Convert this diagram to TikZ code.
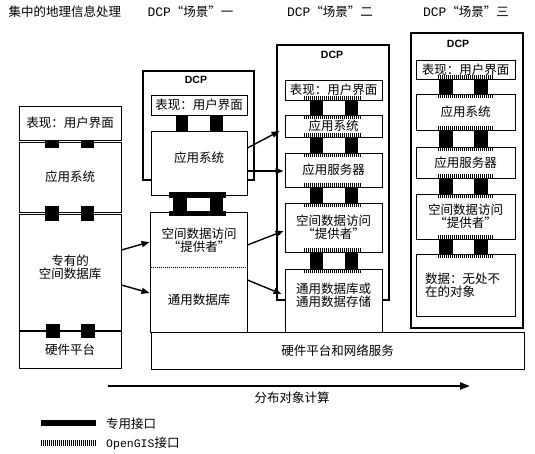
\documentclass[tikz,border=0pt]{standalone}
\usepackage{fontspec}
\setmainfont{Liberation Serif}
\newfontfamily\cjk{Noto Sans CJK SC}
\newfontfamily\monof{Liberation Mono}
\newfontfamily\dcpfont{Liberation Sans}
\newcommand\cjkf{\cjk\fontsize{12.5}{13}\selectfont}
\usetikzlibrary{arrows.meta}
\begin{document}
\begin{tikzpicture}[x=1pt,y=-1pt,
  box/.style={draw, fill=white, line width=0.9pt, inner sep=0pt, font=\cjkf, align=center},
  frame/.style={draw, line width=2.6pt, inner sep=0pt},
  prop/.style={fill=black},
  ogis/.style={line width=4pt, dash pattern=on 1pt off 1pt},
  arr/.style={line width=1.4pt, -{Triangle[length=8pt,width=6pt]}},
  txt/.style={font=\cjkf, inner sep=0pt, align=center},
  dcp/.style={font=\dcpfont\bfseries\fontsize{10.5}{12}\selectfont, inner sep=0pt},
]
\useasboundingbox (0,0) rectangle (535,453);
\fill[white] (0,0) rectangle (535,453);

% headers
\node[txt] (h0) at (65,12) {集中的地理信息处理};
\node[txt] (h1) at (190.5,12) {{\monof\fontsize{13}{14}\selectfont DCP}“场景”一};
\node[txt] (h2) at (330,12) {{\monof\fontsize{13}{14}\selectfont DCP}“场景”二};
\node[txt] (h3) at (466,12) {{\monof\fontsize{13}{14}\selectfont DCP}“场景”三};

% frames
\node[frame, minimum width=111pt, minimum height=109pt] (F1) at (198.5,125.5) {};
\node[frame, minimum width=112pt, minimum height=255pt] (F2) at (333,172.5) {};
\node[frame, minimum width=112pt, minimum height=295pt] (F3) at (467,180.5) {};
\node[dcp] (F1t) at (196,80) {DCP};
\node[dcp] (F2t) at (332,55) {DCP};
\node[dcp] (F3t) at (458,44) {DCP};

% hardware / network
\node[box, minimum width=373pt, minimum height=37pt] (H) at (337.5,350.5) {硬件平台和网络服务};

% left column
\node[box, minimum width=102pt, minimum height=34pt] (L1) at (70,123) {表现：用户界面};
\node[box, minimum width=102pt, minimum height=70pt] (L2) at (70,177) {应用系统};
\node[box, minimum width=102pt, minimum height=117pt] (L3) at (70,272.5) {};
\node[txt] (L3t) at (70,267) {专有的\\空间数据库};
\node[box, minimum width=102pt, minimum height=37pt] (L4) at (70,350) {硬件平台};
\draw[line width=2pt] (L3.south west) -- (L3.south east);
\fill (45,140) rectangle (59,148); \fill (81,140) rectangle (94,148);
\fill (45,206) rectangle (59,221); \fill (81,206) rectangle (94,221);
\fill (46,324) rectangle (60,338); \fill (81,324) rectangle (95,338);

% DCP 1
\node[box, minimum width=96pt, minimum height=20pt] (D1a) at (199,105) {表现：用户界面};
\node[box, minimum width=96pt, minimum height=64pt] (D1b) at (199,163) {};
\node[txt] (D1bt) at (199,158) {应用系统};
\node[box, draw=none, minimum width=96pt, minimum height=54pt] (D1c) at (199,240) {空间数据访问\\“提供者”};
\node[box, draw=none, minimum width=96pt, minimum height=65pt] (D1d) at (199,299.5) {通用数据库};
\draw[line width=0.9pt] (D1c.north west) rectangle (D1d.south east);
\draw[line width=0.9pt, dash pattern=on 1pt off 1pt] (D1c.south west) -- (D1c.south east);
\fill (176,115) rectangle (188,131); \fill (210,115) rectangle (223,131);
\fill (169,192) rectangle (226,198); \fill (169,211) rectangle (226,216);
\fill (173,198) rectangle (187,211); \fill (210,198) rectangle (223,211);

% DCP 2
\node[box, minimum width=97pt, minimum height=20pt] (D2a) at (333.5,90) {表现：用户界面};
\node[box, minimum width=97pt, minimum height=22pt] (D2b) at (333.5,126) {应用系统};
\node[box, minimum width=97pt, minimum height=34pt] (D2c) at (333.5,170) {应用服务器};
\node[box, minimum width=97pt, minimum height=49pt] (D2d) at (333.5,227.5) {空间数据访问\\“提供者”};
\node[box, minimum width=97pt, minimum height=63pt] (D2e) at (333.5,300.5) {};
\node[txt] (D2et) at (333.5,295.5) {通用数据库或\\通用数据存储};
\foreach \a/\b in {100/115,137/153,187/203,252/269}{
  \fill (310,\a) rectangle (323,\b); \fill (345,\a) rectangle (358,\b);}
\foreach \y in {98,117,135,155,185,205,250,271}{
  \draw[ogis] (304,\y) -- (361,\y);}

% DCP 3
\node[box, minimum width=99pt, minimum height=19pt] (D3a) at (465.5,69.5) {表现：用户界面};
\node[box, minimum width=99pt, minimum height=36pt] (D3b) at (465.5,112) {应用系统};
\node[box, minimum width=99pt, minimum height=31pt] (D3c) at (465.5,162.5) {应用服务器};
\node[box, minimum width=99pt, minimum height=45pt] (D3d) at (465.5,216.5) {空间数据访问\\“提供者”};
\node[box, minimum height=62pt, inner xsep=9pt, text width=81pt, align=left] (D3e) at (465.5,285) {数据：无处不\\在的对象};
\foreach \a/\b in {79/94,130/147,178/194,239/254}{
  \fill (439,\a) rectangle (453,\b); \fill (474,\a) rectangle (488,\b);}
\foreach \y in {77,96,128,149,176,196,237,256}{
  \draw[ogis] (438,\y) -- (493,\y);}

% arrows
\draw[arr] ([yshift=22.5pt]L3.east) -- ([xshift=-1pt,yshift=-2pt]D1c.west);
\draw[arr] ([yshift=-12.5pt]L3.east) -- ([xshift=-1pt,yshift=6.5pt]D1d.west);
\draw[arr] ([yshift=15pt]D1b.east) -- ([xshift=-5pt,yshift=-5pt]D2b.west);
\draw[arr] ([yshift=-8pt]D1b.east) -- ([xshift=-1pt,yshift=-1pt]D2c.west);
\draw[arr] ([yshift=-5pt]D1c.east) -- ([xshift=-1pt,yshift=-3.5pt]D2d.west);
\draw[arr] ([yshift=19.5pt]D1d.east) -- ([xshift=-3pt,yshift=6.5pt]D2e.west);

% distributed object computing
\coordinate (g1) at (108,386);
\coordinate (g2) at (470,386);
\draw[line width=2.2pt, -{Triangle[length=10pt,width=7pt]}] (g1) -- (g2);
\node[txt] (gl) at (292,398) {分布对象计算};

% legend
\node[prop, minimum width=54.5pt, minimum height=6pt, inner sep=0pt] (k1) at (68.25,423) {};
\node[txt, anchor=west] (k1t) at (106,423.5) {专用接口};
\draw[ogis, line width=6pt] (41,443) -- (95.5,443);
\node[txt, anchor=west] (k2t) at (106,443) {{\monof\fontsize{11.5}{13}\selectfont OpenGIS}接口};
\end{tikzpicture}
\end{document}
